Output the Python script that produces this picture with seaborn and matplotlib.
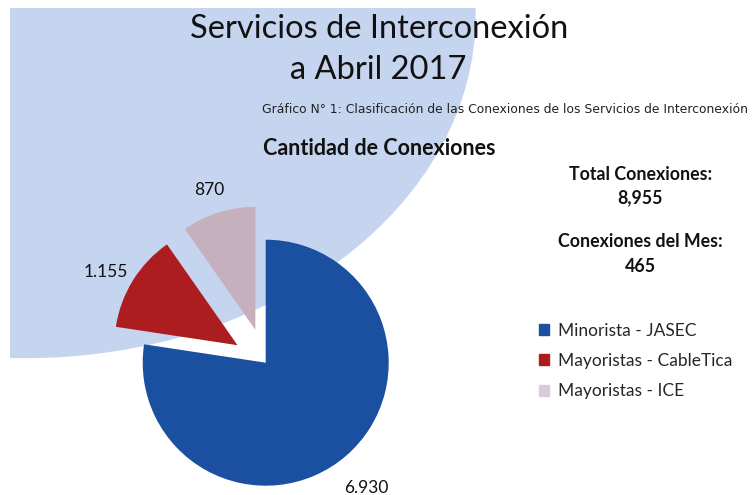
import matplotlib
matplotlib.use("Agg")
import matplotlib.pyplot as plt
from matplotlib.patches import Ellipse, Rectangle
import seaborn as sns

# Data
categories = ["Minorista - JASEC", "Mayoristas - CableTica", "Mayoristas - ICE"]
conexiones = [6930, 1155, 870]
total_conexiones = "8,955"
conexiones_mes = "465"

sns.set_theme(style="white")
plt.rcParams['font.family'] = ['Lato', 'DejaVu Sans']

colors = sns.color_palette(["#1b4f9f", "#ad1c1f", "#c7b0be"])
legend_colors = ["#1b4f9f", "#ad1c1f", "#d9cbdc"]

fig = plt.figure(figsize=(7.54, 4.95), dpi=100)
ax = fig.add_axes([0, 0, 1, 1])

# big light background shape (upper left)
clip = Rectangle((10, 0), 744, 487, transform=ax.transData)
bg = Ellipse((25, 480), 900, 685, color="#c6d5ef", zorder=0)
ax.add_patch(bg)
bg.set_clip_path(clip)

# Pie (explode is in data units here since radius is in pixels)
r = 123
labels = [f"{v:,}".replace(",", ".") for v in conexiones]
wedges, texts = ax.pie(conexiones, labels=labels, colors=colors,
                       startangle=90, counterclock=False,
                       explode=[0, 0.27 * r, 0.28 * r], radius=r,
                       center=(265.7, 132.3), labeldistance=1.26,
                       textprops={'fontsize': 12.5, 'color': '#111111'},
                       wedgeprops={'linewidth': 0})
for w in wedges:
    w.set_zorder(2)
for t in texts:
    t.set_ha('center')
    t.set_va('top')

ax.set_xlim(0, 754)
ax.set_ylim(0, 495)
ax.set_aspect('equal')
ax.axis('off')

# Titles
fig.text(0.503, 0.923, "Servicios de Interconexión", ha='center', va='baseline',
         fontsize=23.5, color='#111111')
fig.text(0.501, 0.840, "a Abril 2017", ha='center', va='baseline',
         fontsize=23.5, color='#111111')
fig.text(0.347, 0.772, "Gráfico N° 1: Clasificación de las Conexiones de los Servicios de Interconexión",
         ha='left', va='baseline', fontsize=8.9, color='#222222',
         family=['DejaVu Sans'])
fig.text(0.503, 0.687, "Cantidad de Conexiones", ha='center', va='baseline',
         fontsize=15.5, fontweight='bold', color='#111111')

# Totals
fig.text(0.849, 0.636, "Total Conexiones:", ha='center', va='baseline',
         fontsize=12.8, fontweight='bold', color='#111111')
fig.text(0.849, 0.590, total_conexiones, ha='center', va='baseline',
         fontsize=12.8, fontweight='bold', color='#111111')
fig.text(0.849, 0.501, "Conexiones del Mes:", ha='center', va='baseline',
         fontsize=12.8, fontweight='bold', color='#111111')
fig.text(0.849, 0.450, conexiones_mes, ha='center', va='baseline',
         fontsize=12.8, fontweight='bold', color='#111111')

# Legend
handles = [Rectangle((0, 0), 1, 1, color=c) for c in legend_colors]
ax.legend(handles, categories, loc='upper left', bbox_to_anchor=(0.705, 0.362),
          frameon=False, fontsize=12.5, handlelength=0.6, handleheight=0.6,
          handletextpad=0.5, labelspacing=0.82, borderaxespad=0)

fig.savefig("out.png", dpi=100)
